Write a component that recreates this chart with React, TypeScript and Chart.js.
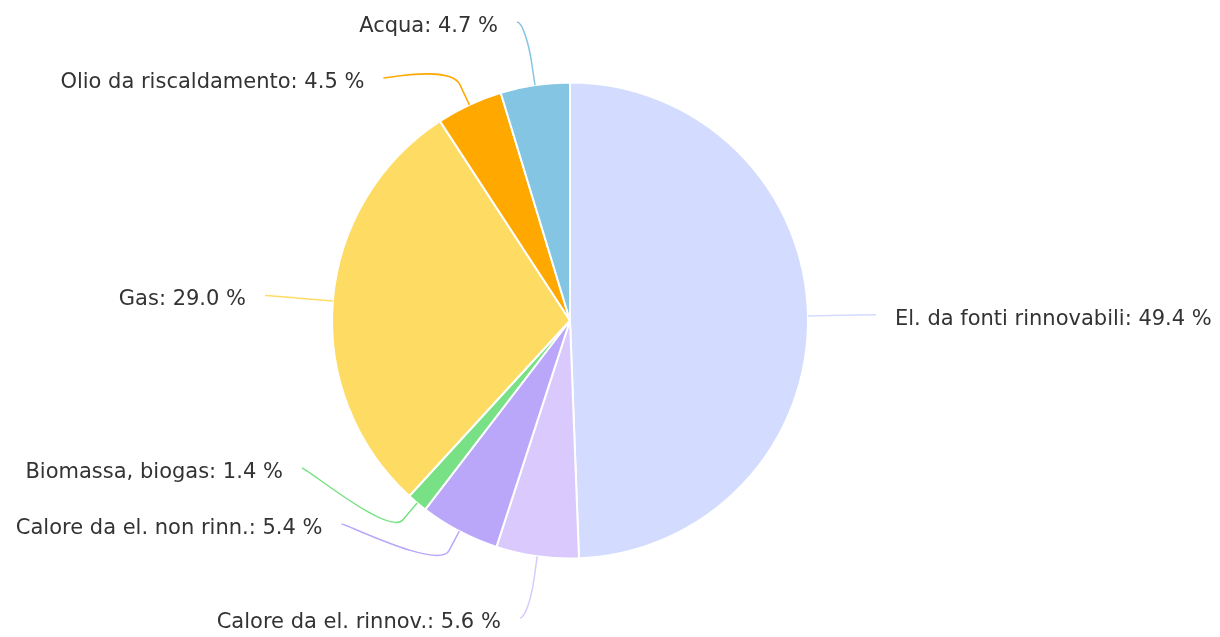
import React, { useEffect, useRef } from "react";
import { Chart, registerables } from "chart.js";

Chart.register(...registerables);

// ---- Data ----
const categories = [
  "El. da fonti rinnovabili",
  "Calore da el. rinnov.",
  "Calore da el. non rinn.",
  "Biomassa, biogas",
  "Gas",
  "Olio da riscaldamento",
  "Acqua",
];
const shares = [49.4, 5.6, 5.4, 1.4, 29.0, 4.5, 4.7];

// ---- Style ----
const sliceColors = ["#d3dbfe", "#d9c9fd", "#bba7f9", "#78e185", "#fedc64", "#fea800", "#83c5e3"];
const W = 1220;
const H = 637;
const PIE_RADIUS = 238;
const LABEL_RADIUS = 306;
const BREAK_OFFSET = 22;
const LABEL_BOX = 56;
const TEXT_GAP = 19;
const EDGE_PAD = 8;
const LABEL_MIN_Y = 22;
const LABEL_MAX_Y = 618;
const LABEL_NUDGE = [0, 0, -38, -38, 0, 0, 0];
const FONT = "21px 'DejaVu Sans', Verdana, sans-serif";
const TEXT_COLOR = "#333333";

type Item = {
  i: number;
  cx: number;
  cy: number;
  r: number;
  cos: number;
  sin: number;
  left: boolean;
  naturalX: number;
  naturalY: number;
  y: number;
  edge: boolean;
};

function distribute(items: Item[], size: number, minY: number, maxY: number) {
  type G = { members: Item[]; min: number; max: number; pos: number };
  const groups: G[] = items.map((it) => ({ members: [it], min: it.naturalY, max: it.naturalY, pos: 0 }));
  const place = (g: G) => {
    const n = g.members.length;
    const center = (g.min + g.max) / 2;
    let start = center - ((n - 1) * size) / 2;
    start = Math.max(minY, Math.min(maxY - (n - 1) * size, start));
    g.pos = start;
  };
  groups.forEach(place);
  let changed = true;
  while (changed) {
    changed = false;
    for (let k = 0; k < groups.length - 1; k++) {
      const a = groups[k];
      const b = groups[k + 1];
      const aEnd = a.pos + (a.members.length - 1) * size;
      if (b.pos - aEnd < size) {
        a.members.push(...b.members);
        a.max = b.max;
        groups.splice(k + 1, 1);
        place(a);
        changed = true;
        break;
      }
    }
  }
  groups.forEach((g) => g.members.forEach((m, j) => (m.y = g.pos + j * size)));
}

const pieLabels = {
  id: "pieLabels",
  afterDatasetsDraw(chart: any) {
    const ctx: CanvasRenderingContext2D = chart.ctx;
    const meta = chart.getDatasetMeta(0);
    const items: Item[] = meta.data.map((arc: any, i: number) => {
      const p = arc.getProps(["x", "y", "startAngle", "endAngle", "outerRadius"], true);
      const mid = (p.startAngle + p.endAngle) / 2;
      const cos = Math.cos(mid);
      const sin = Math.sin(mid);
      const naturalY = p.y + sin * LABEL_RADIUS;
      return {
        i,
        cx: p.x,
        cy: p.y,
        r: p.outerRadius,
        cos,
        sin,
        left: cos < 0,
        naturalX: p.x + cos * LABEL_RADIUS,
        naturalY,
        y: naturalY,
        edge: naturalY < LABEL_MIN_Y || naturalY > LABEL_MAX_Y,
      };
    });
    for (const left of [true, false]) {
      const side = items.filter((it) => it.left === left).sort((a, b) => a.naturalY - b.naturalY);
      distribute(side, LABEL_BOX, LABEL_MIN_Y, LABEL_MAX_Y);
    }
    ctx.save();
    ctx.font = FONT;
    ctx.textBaseline = "middle";
    items.forEach((it) => {
      const y = it.y + LABEL_NUDGE[it.i];
      const dy = y - it.cy;
      const dir = it.left ? -1 : 1;
      const x = it.edge
        ? it.naturalX + dir * EDGE_PAD
        : it.cx + dir * Math.sqrt(Math.max(0, LABEL_RADIUS * LABEL_RADIUS - dy * dy));
      const tx = it.cx + it.cos * it.r;
      const ty = it.cy + it.sin * it.r;
      const bx = it.cx + it.cos * (it.r + BREAK_OFFSET);
      const by = it.cy + it.sin * (it.r + BREAK_OFFSET);
      ctx.beginPath();
      ctx.strokeStyle = sliceColors[it.i];
      ctx.lineWidth = 1.5;
      ctx.moveTo(x, y);
      ctx.bezierCurveTo(x - dir * 5, y, 2 * bx - tx, 2 * by - ty, bx, by);
      ctx.lineTo(tx, ty);
      ctx.stroke();
      ctx.fillStyle = TEXT_COLOR;
      ctx.textAlign = it.left ? "right" : "left";
      const text = `${categories[it.i]}: ${shares[it.i].toFixed(1)} %`;
      ctx.fillText(text, x + dir * TEXT_GAP, y + 4.5);
    });
    ctx.restore();
  },
};

export default function App() {
  const ref = useRef<HTMLCanvasElement>(null);
  useEffect(() => {
    document.body.style.margin = "0";
    const chart = new Chart(ref.current as HTMLCanvasElement, {
      type: "pie",
      data: {
        labels: categories,
        datasets: [
          {
            data: shares,
            backgroundColor: sliceColors,
            borderColor: "#ffffff",
            borderWidth: 2,
            hoverOffset: 0,
            radius: PIE_RADIUS,
          } as any,
        ],
      },
      options: {
        responsive: false,
        animation: false,
        devicePixelRatio: 1,
        events: [],
        layout: { padding: { left: 0, right: 80, top: 4, bottom: 0 } },
        plugins: { legend: { display: false }, tooltip: { enabled: false } },
      },
      plugins: [pieLabels],
    });
    return () => chart.destroy();
  }, []);
  return (
    <div style={{ width: W, height: H, background: "#ffffff" }}>
      <canvas ref={ref} width={W} height={H} style={{ display: "block", width: W, height: H }} />
    </div>
  );
}
